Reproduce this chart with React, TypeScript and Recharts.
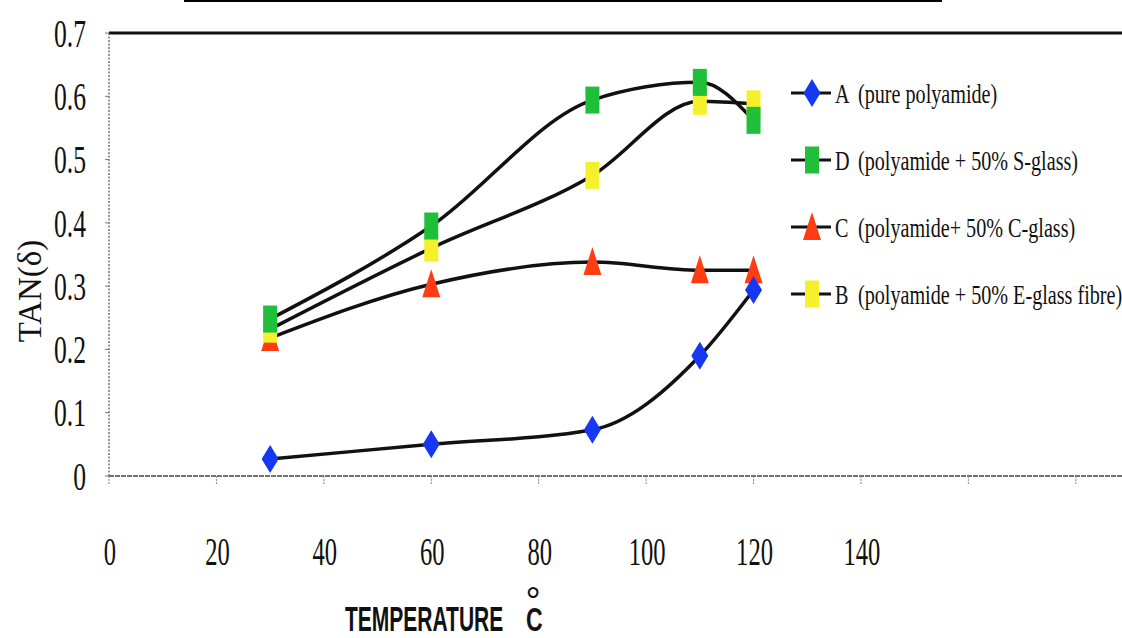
import React from 'react';
import { LineChart, Line, XAxis, YAxis, ReferenceLine } from 'recharts';

// ---- data ----
const temperatures = [30, 60, 90, 110, 120];
const seriesA = [0.027, 0.05, 0.073, 0.19, 0.294]; // pure polyamide
const seriesD = [0.248, 0.395, 0.594, 0.622, 0.562]; // + 50% S-glass
const seriesC = [0.218, 0.303, 0.338, 0.325, 0.325]; // + 50% C-glass
const seriesB = [0.232, 0.36, 0.475, 0.592, 0.588]; // + 50% E-glass fibre

const xTicks = [0, 20, 40, 60, 80, 100, 120, 140, 160, 180];
const xTickLabels = ['0', '20', '40', '60', '80', '100', '120', '140', '', ''];
const yTicks = [0, 0.1, 0.2, 0.3, 0.4, 0.5, 0.6, 0.7];
const yTickLabels = ['0', '0.1', '0.2', '0.3', '0.4', '0.5', '0.6', '0.7'];

const legendKeys = ['A', 'D', 'C', 'B'];
const legendLetters = ['A', 'D', 'C', 'B'];
const legendTexts = [
  '(pure polyamide)',
  '(polyamide + 50% S-glass)',
  '(polyamide+ 50% C-glass)',
  '(polyamide + 50% E-glass fibre)',
];

const data = temperatures.map((t, i) => ({
  t,
  A: seriesA[i],
  D: seriesD[i],
  C: seriesC[i],
  B: seriesB[i],
}));

// ---- styles ----
const COLORS: Record<string, string> = {
  A: '#1638f2',
  D: '#1fbf3a',
  C: '#ff3c12',
  B: '#f6f02c',
};
const SHAPES: Record<string, string> = { A: 'diamond', D: 'square', C: 'triangle', B: 'square' };
const SERIF = '"Liberation Serif", "Times New Roman", serif';
const SANS = '"Liberation Sans", Arial, sans-serif';

function MarkerShape({ cx, cy, kind, color }: { cx: number; cy: number; kind: string; color: string }) {
  if (kind === 'diamond') {
    return (
      <polygon
        points={`${cx},${cy - 14} ${cx + 8.5},${cy} ${cx},${cy + 14} ${cx - 8.5},${cy}`}
        fill={color}
      />
    );
  }
  if (kind === 'triangle') {
    return <polygon points={`${cx},${cy - 15} ${cx + 9},${cy + 13} ${cx - 9},${cy + 13}`} fill={color} />;
  }
  return <rect x={cx - 7} y={cy - 13.5} width={14} height={27} fill={color} />;
}

function makeDot(key: string) {
  return (props: any) => {
    const { cx, cy, index } = props;
    if (cx == null || cy == null) return <g key={`${key}-${index}`} />;
    return (
      <g key={`${key}-${index}`}>
        <MarkerShape cx={cx} cy={cy} kind={SHAPES[key]} color={COLORS[key]} />
      </g>
    );
  };
}

const XTick = (props: any) => {
  const { x, y, payload, index } = props;
  const label = xTickLabels[xTicks.indexOf(payload.value)] ?? '';
  return (
    <g transform={`translate(${x + 1},${y + 65})`} key={index}>
      <text
        transform="scale(0.6,1)"
        textAnchor="middle"
        dominantBaseline="central"
        fontFamily={SERIF}
        fontSize={41}
        fill="#111"
      >
        {label}
      </text>
    </g>
  );
};

const YTick = (props: any) => {
  const { x, y, payload, index } = props;
  const i = yTicks.findIndex((v) => Math.abs(v - payload.value) < 1e-6);
  const label = i >= 0 ? yTickLabels[i] : '';
  return (
    <g transform={`translate(${x - 17},${y})`} key={index}>
      <text
        transform="scale(0.64,1)"
        textAnchor="end"
        dominantBaseline="central"
        fontFamily={SERIF}
        fontSize={40}
        fill="#111"
      >
        {label}
      </text>
    </g>
  );
};

const LegendBlock = () => (
  <g transform="translate(780,70)">
    {legendKeys.map((k, i) => {
      const cy = 23 + i * 67;
      return (
        <g key={k}>
          <line x1={11} x2={51} y1={cy} y2={cy} stroke="#111" strokeWidth={3} />
          <MarkerShape cx={32} cy={cy} kind={SHAPES[k]} color={COLORS[k]} />
          <g transform={`translate(55,${cy})`}>
            <text transform="scale(0.72,1)" dominantBaseline="central" fontFamily={SERIF} fontSize={28} fill="#111">
              {legendLetters[i]}
            </text>
          </g>
          <g transform={`translate(78,${cy})`}>
            <text transform="scale(0.72,1)" dominantBaseline="central" fontFamily={SERIF} fontSize={28} fill="#111">
              {legendTexts[i]}
            </text>
          </g>
        </g>
      );
    })}
  </g>
);

export default function App() {
  return (
    <div style={{ position: 'absolute', left: 0, top: 0, width: 1122, height: 638, background: '#fff', overflow: 'hidden' }}>
      <div style={{ position: 'absolute', left: 184, top: 0, width: 758, height: 2, background: '#000' }} />
      <LineChart width={1122} height={638} data={data} margin={{ top: 33, right: 0, bottom: 102, left: 8 }}>
        <XAxis
          dataKey="t"
          type="number"
          domain={[0, 188.6]}
          allowDataOverflow
          ticks={xTicks}
          interval={0}
          tick={<XTick />}
          tickSize={8}
          tickLine={{ stroke: '#888', strokeWidth: 1, strokeDasharray: '2 1' }}
          axisLine={{ stroke: '#444', strokeWidth: 1.6, strokeDasharray: '5 1' }}
          height={60}
        />
        <YAxis
          type="number"
          domain={[0, 0.7]}
          ticks={yTicks}
          interval={0}
          tick={<YTick />}
          tickSize={4}
          tickLine={{ stroke: '#777', strokeWidth: 1 }}
          axisLine={{ stroke: '#555', strokeWidth: 1.2, strokeDasharray: '2 1.5' }}
          width={101}
        />
        <ReferenceLine y={0.7} stroke="#111" strokeWidth={3} ifOverflow="visible" />
        {['C', 'A', 'B', 'D'].map((k) => (
          <Line
            key={k}
            dataKey={k}
            type="monotone"
            stroke="#111"
            strokeWidth={3.5}
            dot={makeDot(k)}
            activeDot={false}
            isAnimationActive={false}
          />
        ))}
      </LineChart>
      <svg
        width={1122}
        height={638}
        style={{ position: 'absolute', left: 0, top: 0, pointerEvents: 'none' }}
      >
        <LegendBlock />
        <g transform="translate(30,291) rotate(-90)">
          <text textAnchor="middle" dominantBaseline="central" fontFamily={SERIF} fontSize={33} fill="#111">
            TAN(δ)
          </text>
        </g>
        <g transform="translate(345,631)">
          <text transform="scale(0.6,1)" fontFamily={SANS} fontWeight={700} fontSize={35} fill="#111">
            TEMPERATURE
          </text>
        </g>
        <text x={533} y={614} textAnchor="middle" fontFamily={SANS} fontSize={38} fill="#111">
          °
        </text>
        <g transform="translate(526,631)">
          <text transform="scale(0.68,1)" fontFamily={SANS} fontWeight={700} fontSize={34} fill="#1a1010">
            C
          </text>
        </g>
      </svg>
    </div>
  );
}
